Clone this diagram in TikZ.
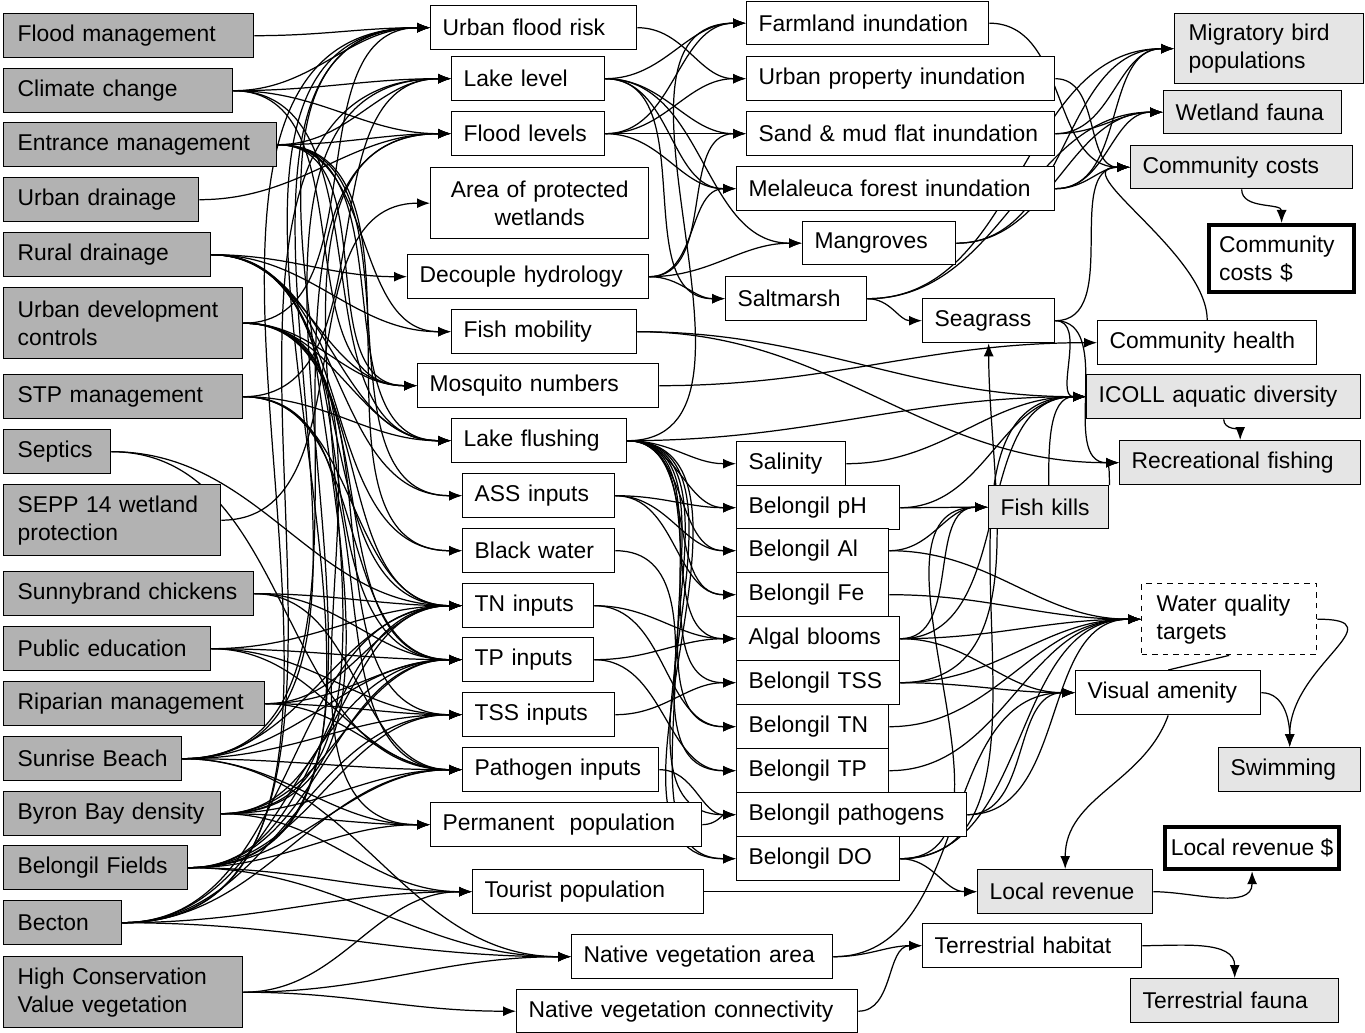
\documentclass[tikz,border=0pt]{standalone}
\usepackage{fontspec}
\setmainfont{Liberation Sans}
\usetikzlibrary{arrows.meta,backgrounds}

\begin{document}
\begin{tikzpicture}[x=0.02cm, y=-0.02cm,
        every node/.style={font=\fontsize{13}{16}\selectfont, draw, line width=0.8pt, anchor=north west, minimum height=0.88cm, inner sep=0pt, inner xsep=0.24cm, align=left},
        driver/.style={fill=gray!60, inner xsep=0.28cm},
        box/.style={fill=white},
        outcome/.style={fill=gray!20},
        money/.style={fill=white, line width=2.4pt},
        target/.style={fill=white, dashed, inner xsep=0.3cm},
        link/.style={-{Latex[length=2.6mm,width=2mm]}, line width=0.7pt, out=0, in=180}]
        \useasboundingbox (0,0) rectangle (1365,1033);
        % management drivers
        \node[driver, text width=4.44cm] (flood) at (3,13) {Flood management};
        \node[driver, text width=4.02cm] (climate) at (3,68) {Climate change};
        \node[driver, text width=4.9cm] (entrance) at (3,122) {Entrance management};
        \node[driver, text width=3.34cm] (udrain) at (3,177) {Urban drainage};
        \node[driver, text width=3.58cm] (rdrain) at (3,232) {Rural drainage};
        \node[driver, text width=4.22cm, minimum height=1.42cm] (udev) at (3,287) {Urban development\\controls};
        \node[driver, text width=4.22cm] (stp) at (3,374) {STP management};
        \node[driver, text width=1.58cm] (septics) at (3,429) {Septics};
        \node[driver, text width=3.78cm, minimum height=1.42cm] (sepp) at (3,484) {SEPP 14 wetland\\protection};
        \node[driver, text width=4.44cm] (sunny) at (3,571) {Sunnybrand chickens};
        \node[driver, text width=3.58cm] (pubedu) at (3,626) {Public education};
        \node[driver, text width=4.66cm] (riparian) at (3,681) {Riparian management};
        \node[driver, text width=3.0cm] (sunrise) at (3,736) {Sunrise Beach};
        \node[driver, text width=3.78cm] (byron) at (3,791) {Byron Bay density};
        \node[driver, text width=3.12cm] (fields) at (3,845) {Belongil Fields};
        \node[driver, text width=1.8cm] (becton) at (3,900) {Becton};
        \node[driver, text width=4.22cm, minimum height=1.42cm] (hcv) at (3,956) {High Conservation\\Value vegetation};
        % pressures
        \node[box, text width=3.64cm] (ufrisk) at (430,5) {Urban flood risk};
        \node[box, text width=2.58cm] (lakelvl) at (451,56) {Lake level};
        \node[box, text width=2.58cm] (floodlvl) at (451,111) {Flood levels};
        \node[box, text width=3.88cm, align=center, minimum height=1.42cm] (wetlands) at (430,167) {Area of protected\\wetlands};
        \node[box, text width=4.34cm] (decouple) at (407,254) {Decouple hydrology};
        \node[box, text width=3.22cm] (fishmob) at (451,309) {Fish mobility};
        \node[box, text width=4.34cm] (mosq) at (417,363) {Mosquito numbers};
        \node[box, text width=3.02cm] (flushing) at (451,418) {Lake flushing};
        \node[box, text width=2.56cm] (ass) at (462,473) {ASS inputs};
        \node[box, text width=2.56cm] (black) at (462,528) {Black water};
        \node[box, text width=2.14cm] (tn) at (462,583) {TN inputs};
        \node[box, text width=2.14cm] (tp) at (462,637) {TP inputs};
        \node[box, text width=2.56cm] (tss) at (462,692) {TSS inputs};
        \node[box, text width=3.44cm] (pathin) at (462,747) {Pathogen inputs};
        \node[box, text width=4.94cm] (permpop) at (430,802) {Permanent\ \ population};
        \node[box, text width=4.14cm] (tourpop) at (472,869) {Tourist population};
        \node[box, text width=4.74cm] (natveg) at (571,934) {Native vegetation area};
        \node[box, text width=6.34cm, minimum height=0.86cm] (natcon) at (516,989) {Native vegetation connectivity};
        % lake states
        \node[box, text width=4.36cm, minimum height=0.86cm] (farm) at (746,1) {Farmland inundation};
        \node[box, text width=5.68cm] (uprop) at (746,56) {Urban property inundation};
        \node[box, text width=5.68cm] (sand) at (746,111) {Sand \& mud flat inundation};
        \node[box, text width=5.88cm] (mela) at (736,166) {Melaleuca forest inundation};
        \node[box, text width=2.58cm, minimum height=0.86cm] (mangr) at (802,221) {Mangroves};
        \node[box, text width=2.34cm] (saltm) at (725,276) {Saltmarsh};
        \node[box, text width=2.16cm] (seagr) at (922,298) {Seagrass};
        \node[box, text width=1.7cm] (salin) at (736,441) {Salinity};
        \node[box, text width=2.78cm] (ph) at (736,485) {Belongil pH};
        \node[box, text width=2.56cm] (al) at (736,528) {Belongil Al};
        \node[box, text width=2.56cm] (fe) at (736,572) {Belongil Fe};
        \node[box, text width=2.78cm] (algal) at (736,616) {Algal blooms};
        \node[box, text width=2.78cm] (btss) at (736,660) {Belongil TSS};
        \node[box, text width=2.56cm] (btn) at (736,704) {Belongil TN};
        \node[box, text width=2.56cm] (btp) at (736,748) {Belongil TP};
        \node[box, text width=4.12cm] (bpath) at (736,792) {Belongil pathogens};
        \node[box, text width=2.78cm] (do) at (736,836) {Belongil DO};
        \node[outcome, text width=1.92cm, minimum height=0.86cm] (fishk) at (988,485) {Fish kills};
        % values
        \node[outcome, inner xsep=0.28cm, text width=3.22cm, minimum height=1.4cm] (bird) at (1174,13) {Migratory bird\\populations};
        \node[outcome, text width=3.08cm, minimum height=0.86cm] (wfauna) at (1163,90) {Wetland fauna};
        \node[outcome, text width=3.96cm, minimum height=0.86cm] (ccost) at (1130,145) {Community costs};
        \node[money, inner xsep=0.2cm, text width=2.5cm, minimum height=1.34cm] (ccostd) at (1207,223) {Community\\costs \$};
        \node[box, text width=3.9cm] (chealth) at (1097,320) {Community health};
        \node[outcome, text width=5.0cm] (icoll) at (1086,374) {ICOLL aquatic diversity};
        \node[outcome, text width=4.34cm] (recfish) at (1119,440) {Recreational fishing};
        \node[target, text width=2.9cm, minimum height=1.42cm] (wqt) at (1141,583) {Water quality\\targets};
        \node[box, text width=3.22cm] (visual) at (1075,670) {Visual amenity};
        \node[outcome, text width=2.36cm] (swim) at (1218,747) {Swimming};
        \node[money, align=center, inner xsep=0pt, minimum width=3.48cm, minimum height=0.84cm] (lrevd) at (1163,825) {Local revenue \$};
        \node[outcome, text width=3.02cm] (lrev) at (977,869) {Local revenue};
        \node[box, text width=3.9cm] (terhab) at (922,923) {Terrestrial habitat};
        \node[outcome, text width=3.68cm] (terfauna) at (1130,978) {Terrestrial fauna};
        \begin{scope}[on background layer]
        % drivers to pressures
        \draw[link] (flood.east) to (ufrisk.west);
        \draw[link] (climate.east) to (ufrisk.west);
        \draw[link] (climate.east) to (lakelvl.west);
        \draw[link] (climate.east) to (floodlvl.west);
        \draw[link] (climate.east) to (mosq.west);
        \draw[link] (climate.east) to (flushing.west);
        \draw[link] (entrance.east) to (lakelvl.west);
        \draw[link] (entrance.east) to (floodlvl.west);
        \draw[link] (entrance.east) to (fishmob.west);
        \draw[link] (entrance.east) to (mosq.west);
        \draw[link] (entrance.east) to (flushing.west);
        \draw[link] (entrance.east) to (ass.west);
        \draw[link] (entrance.east) to (black.west);
        \draw[link] (udrain.east) to (floodlvl.west);
        \draw[link] (rdrain.east) to (decouple.west);
        \draw[link] (rdrain.east) to (fishmob.west);
        \draw[link] (rdrain.east) to (mosq.west);
        \draw[link] (rdrain.east) to (flushing.west);
        \draw[link] (rdrain.east) to (ass.west);
        \draw[link] (rdrain.east) to (black.west);
        \draw[link] (rdrain.east) to (tn.west);
        \draw[link] (rdrain.east) to (tp.west);
        \draw[link] (udev.east) to (ufrisk.west);
        \draw[link] (udev.east) to (mosq.west);
        \draw[link] (udev.east) to (flushing.west);
        \draw[link] (udev.east) to (tn.west);
        \draw[link] (udev.east) to (tp.west);
        \draw[link] (udev.east) to (tss.west);
        \draw[link] (udev.east) to (permpop.west);
        \draw[link] (stp.east) to (lakelvl.west);
        \draw[link] (stp.east) to (flushing.west);
        \draw[link] (stp.east) to (tn.west);
        \draw[link] (stp.east) to (tp.west);
        \draw[link] (stp.east) to (pathin.west);
        \draw[link] (septics.east) to (tn.west);
        \draw[link] (septics.east) to (pathin.west);
        \draw[link] (sepp.east) to (wetlands.west);
        \draw[link] (sunny.east) to (tn.west);
        \draw[link] (sunny.east) to (tp.west);
        \draw[link] (sunny.east) to (pathin.west);
        \draw[link] (pubedu.east) to (tn.west);
        \draw[link] (pubedu.east) to (tp.west);
        \draw[link] (pubedu.east) to (tss.west);
        \draw[link] (pubedu.east) to (pathin.west);
        \draw[link] (riparian.east) to (tn.west);
        \draw[link] (riparian.east) to (tp.west);
        \draw[link] (riparian.east) to (tss.west);
        \draw[link] (riparian.east) to (pathin.west);
        \draw[link] (sunrise.east) to (ufrisk.west);
        \draw[link] (sunrise.east) to (floodlvl.west);
        \draw[link] (sunrise.east) to (tn.west);
        \draw[link] (sunrise.east) to (tp.west);
        \draw[link] (sunrise.east) to (tss.west);
        \draw[link] (sunrise.east) to (pathin.west);
        \draw[link] (sunrise.east) to (permpop.west);
        \draw[link] (sunrise.east) to (natveg.west);
        \draw[link] (byron.east) to (ufrisk.west);
        \draw[link] (byron.east) to (floodlvl.west);
        \draw[link] (byron.east) to (tn.west);
        \draw[link] (byron.east) to (tp.west);
        \draw[link] (byron.east) to (pathin.west);
        \draw[link] (byron.east) to (permpop.west);
        \draw[link] (byron.east) to (tourpop.west);
        \draw[link] (fields.east) to (ufrisk.west);
        \draw[link] (fields.east) to (lakelvl.west);
        \draw[link] (fields.east) to (tn.west);
        \draw[link] (fields.east) to (tp.west);
        \draw[link] (fields.east) to (tss.west);
        \draw[link] (fields.east) to (pathin.west);
        \draw[link] (fields.east) to (permpop.west);
        \draw[link] (fields.east) to (tourpop.west);
        \draw[link] (fields.east) to (natveg.west);
        \draw[link] (becton.east) to (ufrisk.west);
        \draw[link] (becton.east) to (lakelvl.west);
        \draw[link] (becton.east) to (tn.west);
        \draw[link] (becton.east) to (tp.west);
        \draw[link] (becton.east) to (tss.west);
        \draw[link] (becton.east) to (pathin.west);
        \draw[link] (becton.east) to (tourpop.west);
        \draw[link] (becton.east) to (natveg.west);
        \draw[link] (hcv.east) to (tourpop.west);
        \draw[link] (hcv.east) to (natveg.west);
        \draw[link] (hcv.east) to (natcon.west);
        % pressures to lake states
        \draw[link] (ufrisk.east) to (uprop.west);
        \draw[link] (lakelvl.east) to (farm.west);
        \draw[link] (lakelvl.east) to (sand.west);
        \draw[link] (lakelvl.east) to (mela.west);
        \draw[link] (lakelvl.east) to (mangr.west);
        \draw[link] (lakelvl.east) to (saltm.west);
        \draw[link] (floodlvl.east) to (farm.west);
        \draw[link] (floodlvl.east) to (uprop.west);
        \draw[link] (floodlvl.east) to (sand.west);
        \draw[link] (floodlvl.east) to (mela.west);
        \draw[link] (decouple.east) to (sand.west);
        \draw[link] (decouple.east) to (mela.west);
        \draw[link] (decouple.east) to (mangr.west);
        \draw[link] (decouple.east) to (saltm.west);
        \draw[link] (fishmob.east) to (icoll.west);
        \draw[link] (fishmob.east) to (recfish.west);
        \draw[link] (mosq.east) to (chealth.west);
        \draw[link] (flushing.east) to (farm.west);
        \draw[link] (flushing.east) to (salin.west);
        \draw[link] (flushing.east) to (ph.west);
        \draw[link] (flushing.east) to (al.west);
        \draw[link] (flushing.east) to (fe.west);
        \draw[link] (flushing.east) to (algal.west);
        \draw[link] (flushing.east) to (btss.west);
        \draw[link] (flushing.east) to (btn.west);
        \draw[link] (flushing.east) to (btp.west);
        \draw[link] (flushing.east) to (bpath.west);
        \draw[link] (flushing.east) to (do.west);
        \draw[link] (flushing.east) to (icoll.west);
        \draw[link] (ass.east) to (ph.west);
        \draw[link] (ass.east) to (al.west);
        \draw[link] (ass.east) to (fe.west);
        \draw[link] (black.east) to (do.west);
        \draw[link] (tn.east) to (algal.west);
        \draw[link] (tn.east) to (btn.west);
        \draw[link] (tp.east) to (algal.west);
        \draw[link] (tp.east) to (btp.west);
        \draw[link] (tss.east) to (btss.west);
        \draw[link] (pathin.east) to (bpath.west);
        \draw[link] (permpop.east) to (bpath.west);
        \draw[link] (tourpop.east) to (lrev.west);
        \draw[link] (natveg.east) to (terhab.west);
        \draw[link] (natveg.east) to (visual.west);
        \draw[link] (natcon.east) to (terhab.west);
        % lake states to values
        \draw[link] (farm.east) to (ccost.west);
        \draw[link] (uprop.east) to (ccost.west);
        \draw[link] (sand.east) to (bird.west);
        \draw[link] (sand.east) to (wfauna.west);
        \draw[link] (mela.east) to (bird.west);
        \draw[link] (mela.east) to (wfauna.west);
        \draw[link] (mela.east) to (ccost.west);
        \draw[link] (mangr.east) to (bird.west);
        \draw[link] (mangr.east) to (wfauna.west);
        \draw[link] (saltm.east) to (seagr.west);
        \draw[link] (saltm.east) to (bird.west);
        \draw[link] (saltm.east) to (wfauna.west);
        \draw[link] (seagr.east) to (ccost.west);
        \draw[link] (seagr.east) to (icoll.west);
        \draw[link] (seagr.east) to (recfish.west);
        \draw[link, out=90] (chealth.north) to (ccost.west);
        \draw[link] (salin.east) to (icoll.west);
        \draw[link] (ph.east) to (fishk.west);
        \draw[link] (ph.east) to (icoll.west);
        \draw[link] (al.east) to (fishk.west);
        \draw[link] (al.east) to (wqt.west);
        \draw[link] (fe.east) to (wqt.west);
        \draw[link] (algal.east) to (fishk.west);
        \draw[link] (algal.east) to (icoll.west);
        \draw[link] (algal.east) to (wqt.west);
        \draw[link] (algal.east) to (visual.west);
        \draw[link, in=-90] (btss.east) to (seagr.south);
        \draw[link] (btss.east) to (wqt.west);
        \draw[link] (btss.east) to (visual.west);
        \draw[link] (btn.east) to (wqt.west);
        \draw[link] (btp.east) to (wqt.west);
        \draw[link] (bpath.east) to (wqt.west);
        \draw[link] (bpath.east) to (visual.west);
        \draw[link] (do.east) to (fishk.west);
        \draw[link] (do.east) to (icoll.west);
        \draw[link] (do.east) to (wqt.west);
        \draw[link] (do.east) to (lrev.west);
        \draw[link, out=90] (fishk.north) to (icoll.west);
        \draw[link, out=90] (fishk.north east) to (recfish.west);
        \draw[link, out=-90, in=90] (ccost.south) to (ccostd.north);
        \draw[link, out=-90, in=90] (icoll.south) to (recfish.north);
        \draw[line width=0.7pt] (wqt.south) -- (visual.north);
        \draw[link, in=90] (visual.east) to (swim.north);
        \draw[link, in=90, looseness=1.6] (wqt.east) to (swim.north);
        \draw[link, out=-110, in=90] (visual.south) to (lrev.north);
        \draw[link, in=-90] (lrev.east) to (lrevd.south);
        \draw[link, in=90] (terhab.east) to (terfauna.north);
        \end{scope}
    \end{tikzpicture}
\end{document}
